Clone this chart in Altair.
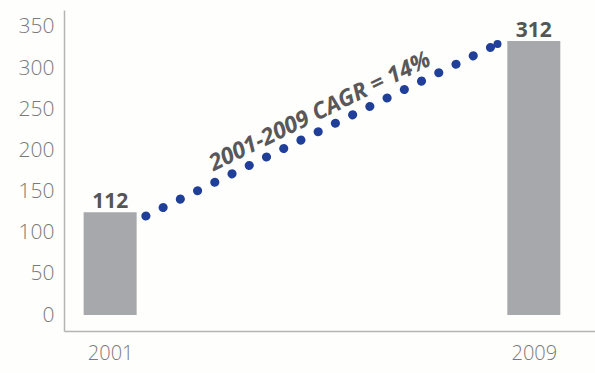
import altair as alt
import pandas as pd

years = [2001, 2009]
bar_values = [125, 333]
bar_labels = ["112", "312"]
cagr_x = [2001.674, 2008.314]
cagr_y = [120.3, 329.3]
cagr_text = ["2001-2009 CAGR = 14%"]
cagr_text_x = [2004.96]
cagr_text_y = [247]
y_ticks = [0, 50, 100, 150, 200, 250, 300, 350]

bars_df = pd.DataFrame({"year": years, "value": bar_values, "label": bar_labels})
line_df = pd.DataFrame({"year": cagr_x, "value": cagr_y})
end_df = line_df.tail(1)
text_df = pd.DataFrame({"year": cagr_text_x, "value": cagr_text_y, "t": cagr_text})

xscale = alt.Scale(domain=[2000.223, 2010.061], nice=False, zero=False)
yscale = alt.Scale(domain=[-19.4, 370.6], nice=False, zero=False)

FONT = "Open Sans"
BLUE = "#1f3f99"

bars = alt.Chart(bars_df).mark_bar(size=53, color="#a7a8ab").encode(
    x=alt.X("year:Q", scale=xscale,
            axis=alt.Axis(values=years, format="d", title=None, grid=False, ticks=False,
                          domainColor="#b4b4b4", domainWidth=1.5,
                          labelFont=FONT, labelFontSize=20, labelFontWeight=300,
                          labelColor="#7a7a7a", labelPadding=12)),
    y=alt.Y("value:Q", scale=yscale,
            axis=alt.Axis(values=y_ticks, title=None, grid=False, ticks=False,
                          domainColor="#b4b4b4", domainWidth=1.5,
                          labelFont=FONT, labelFontSize=21, labelFontWeight=300,
                          labelColor="#7a7a7a", labelPadding=10)),
    y2=alt.datum(0),
)

labels = alt.Chart(bars_df).mark_text(
    font=FONT, fontSize=21, fontWeight="bold", color="#555555", baseline="alphabetic", dy=-4
).encode(x=alt.X("year:Q", scale=xscale), y=alt.Y("value:Q", scale=yscale), text="label:N")

dots = alt.Chart(line_df).mark_line(
    color=BLUE, strokeWidth=9, strokeCap="round", strokeDash=[0.1, 19.08]
).encode(x=alt.X("year:Q", scale=xscale), y=alt.Y("value:Q", scale=yscale))

end_dot = alt.Chart(end_df).mark_circle(color=BLUE, size=64, opacity=1).encode(
    x=alt.X("year:Q", scale=xscale), y=alt.Y("value:Q", scale=yscale)
)

cagr = alt.Chart(text_df).mark_text(
    font=FONT, fontSize=23, fontWeight="bold", fontStyle="italic", color="#58585a", angle=334
).encode(x=alt.X("year:Q", scale=xscale), y=alt.Y("value:Q", scale=yscale), text="t:N")

chart = alt.layer(bars, dots, end_dot, labels, cagr).properties(
    width=531, height=321,
    autosize=alt.AutoSizeParams(type="none"),
    padding={"left": 64, "top": 10, "right": 0, "bottom": 42},
    background="#fefefc",
).configure_view(stroke=None)

chart.save("out.html", embed_options={"renderer": "svg", "actions": False})
